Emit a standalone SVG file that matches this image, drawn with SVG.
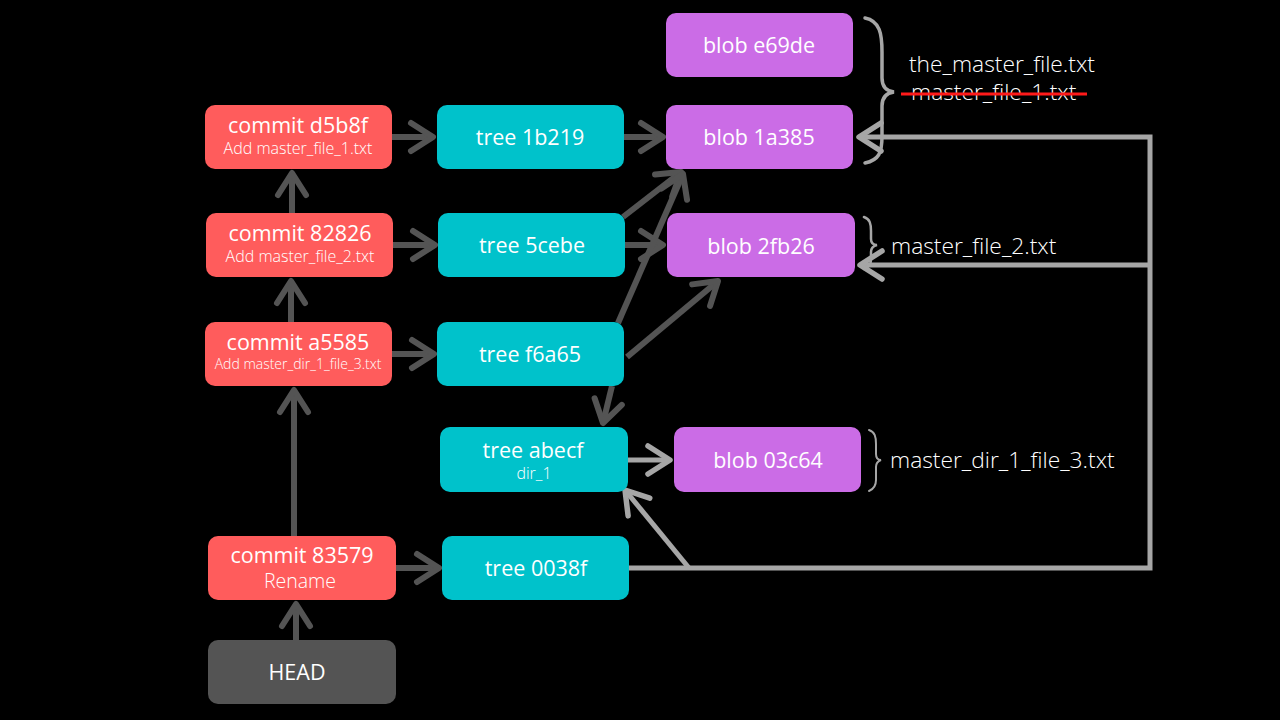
<svg xmlns="http://www.w3.org/2000/svg" width="1280" height="720" viewBox="0 0 1280 720">
<style>
.commit{fill:#ff5c5c}
.tree{fill:#00c2cb}
.blob{fill:#cb6ce6}
.head{fill:#545454}
text{font-family:"Open Sans","Noto Sans","Liberation Sans",sans-serif;fill:#ffffff;text-anchor:middle}
.t{font-size:21.5px}
.s{font-size:16px;font-weight:300}
.lbl{font-size:22.8px;font-weight:300;text-anchor:start}
.dk{stroke:#545454;stroke-width:6;fill:none}
.lt{stroke:#a6a6a6;stroke-width:5;fill:none}
.brace{stroke:#a6a6a6;fill:none;stroke-linecap:round}
</style>
<defs>
<marker id="ad" markerUnits="userSpaceOnUse" markerWidth="40" markerHeight="40" viewBox="-30 -20 40 40" refX="0" refY="0" orient="auto" overflow="visible">
<path d="M-22,-14 L0,0 L-22,14" fill="none" stroke="#545454" stroke-width="6" stroke-linecap="round" stroke-linejoin="round"/>
</marker>
<marker id="al" markerUnits="userSpaceOnUse" markerWidth="40" markerHeight="40" viewBox="-30 -20 40 40" refX="0" refY="0" orient="auto" overflow="visible">
<path d="M-22,-14 L0,0 L-22,14" fill="none" stroke="#a6a6a6" stroke-width="5.5" stroke-linecap="round" stroke-linejoin="round"/>
</marker>
</defs>
<rect width="1280" height="720" fill="#000000"/>

<g id="connectors">
<line class="dk" x1="392" y1="137" x2="433" y2="137" marker-end="url(#ad)"/>
<line class="dk" x1="393" y1="245" x2="435" y2="245" marker-end="url(#ad)"/>
<line class="dk" x1="392" y1="354" x2="434" y2="354" marker-end="url(#ad)"/>
<line class="dk" x1="396" y1="568" x2="439" y2="568" marker-end="url(#ad)"/>
<line class="dk" x1="292" y1="213" x2="292" y2="173" marker-end="url(#ad)"/>
<line class="dk" x1="291" y1="322" x2="291" y2="281" marker-end="url(#ad)"/>
<line class="dk" x1="294" y1="536" x2="294" y2="390" marker-end="url(#ad)"/>
<line class="dk" x1="296" y1="640" x2="296" y2="604" marker-end="url(#ad)"/>
<line class="dk" x1="624" y1="137" x2="663" y2="137" marker-end="url(#ad)"/>
<line class="dk" x1="625" y1="245" x2="663" y2="245" marker-end="url(#ad)"/>
<line class="dk" x1="623" y1="217" x2="681" y2="172" marker-end="url(#ad)"/>
<line class="dk" x1="618" y1="323" x2="683" y2="174" marker-end="url(#ad)"/>
<line class="dk" x1="627" y1="357" x2="718" y2="281" marker-end="url(#ad)"/>
<line class="dk" x1="612" y1="386" x2="603" y2="423" marker-end="url(#ad)"/>
<line class="lt" x1="628" y1="460" x2="670" y2="460" marker-end="url(#al)"/>
<polyline class="lt" points="629,568 1150,568 1150,137 859,137" marker-end="url(#al)"/>
<line class="lt" x1="1150" y1="265" x2="860" y2="265" marker-end="url(#al)"/>
<line class="lt" x1="689" y1="568" x2="625" y2="490" marker-end="url(#al)"/>
</g>

<g id="commit-d5b8f">
<rect class="commit" x="205" y="105" width="187" height="64" rx="10"/>
<text class="t" x="298" y="133">commit d5b8f</text>
<text class="s" x="298" y="154">Add master_file_1.txt</text>
</g>
<g id="commit-82826">
<rect class="commit" x="206" y="213" width="187" height="64" rx="10"/>
<text class="t" x="300" y="241">commit 82826</text>
<text class="s" x="300" y="262">Add master_file_2.txt</text>
</g>
<g id="commit-a5585">
<rect class="commit" x="205" y="322" width="187" height="64" rx="10"/>
<text class="t" x="298" y="350">commit a5585</text>
<text x="298" y="369" style="font-size:14px;font-weight:300">Add master_dir_1_file_3.txt</text>
</g>
<g id="commit-83579">
<rect class="commit" x="208" y="536" width="188" height="64" rx="10"/>
<text class="t" x="302" y="563">commit 83579</text>
<text x="300" y="588" style="font-size:19.5px;font-weight:300">Rename</text>
</g>
<g id="head">
<rect class="head" x="208" y="640" width="188" height="64" rx="10"/>
<text class="t" x="297" y="680">HEAD</text>
</g>

<g id="tree-1b219">
<rect class="tree" x="437" y="105" width="187" height="64" rx="10"/>
<text class="t" x="530" y="145">tree 1b219</text>
</g>
<g id="tree-5cebe">
<rect class="tree" x="438" y="213" width="187" height="64" rx="10"/>
<text class="t" x="532" y="253">tree 5cebe</text>
</g>
<g id="tree-f6a65">
<rect class="tree" x="437" y="322" width="187" height="64" rx="10"/>
<text class="t" x="530" y="362">tree f6a65</text>
</g>
<g id="tree-abecf">
<rect class="tree" x="440" y="427" width="188" height="65" rx="10"/>
<text class="t" x="533" y="458">tree abecf</text>
<text class="s" x="534" y="479">dir_1</text>
</g>
<g id="tree-0038f">
<rect class="tree" x="442" y="536" width="187" height="64" rx="10"/>
<text class="t" x="536" y="576">tree 0038f</text>
</g>

<g id="blob-e69de">
<rect class="blob" x="666" y="13" width="187" height="64" rx="10"/>
<text class="t" x="759" y="53">blob e69de</text>
</g>
<g id="blob-1a385">
<rect class="blob" x="666" y="105" width="187" height="64" rx="10"/>
<text class="t" x="759" y="145">blob 1a385</text>
</g>
<g id="blob-2fb26">
<rect class="blob" x="667" y="213" width="188" height="64" rx="10"/>
<text class="t" x="761" y="254">blob 2fb26</text>
</g>
<g id="blob-03c64">
<rect class="blob" x="674" y="427" width="187" height="65" rx="10"/>
<text class="t" x="768" y="468">blob 03c64</text>
</g>

<g id="labels">
<path class="brace" stroke-width="3.5" d="M865,18 C880,21 882,34 882,52 L882,78 C882,87 886,91 894,92 C886,93 882,97 882,106 L882,136 C882,153 879,160 865,163"/>
<text class="lbl" x="909" y="72">the_master_file.txt</text>
<text class="lbl" x="911" y="100">master_file_1.txt</text>
<line x1="901" y1="94" x2="1087" y2="94" stroke="#ff1a1a" stroke-width="3"/>
<path class="brace" stroke-width="2.5" d="M864,217 C870,219 871,224 871,231 L871,239 C871,243 873,245 877,245 C873,246 871,248 871,252 L871,259 C871,265 869,267 864,269"/>
<text class="lbl" x="891" y="254">master_file_2.txt</text>
<path class="brace" stroke-width="2" d="M869,430 C875,432 876,437 876,444 L876,454 C876,458 878,460 881,460 C878,461 876,463 876,467 L876,480 C876,486 874,489 869,491"/>
<text class="lbl" x="890" y="468">master_dir_1_file_3.txt</text>
</g>
</svg>
